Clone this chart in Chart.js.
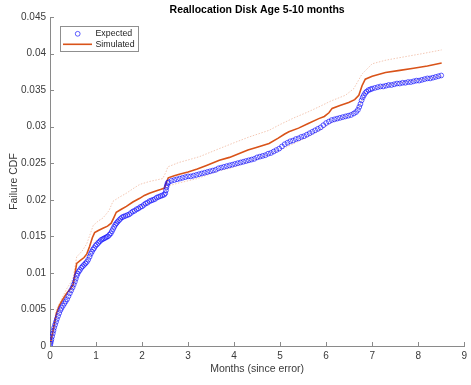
<!DOCTYPE html>
<html>
<head>
<meta charset="utf-8">
<title>Reallocation Disk Age 5-10 months</title>
<script src="https://cdn.jsdelivr.net/npm/chart.js@4/dist/chart.umd.min.js"></script>
<style>
  html, body { margin: 0; padding: 0; background: #ffffff; }
  canvas { display: block; }
</style>
</head>
<body>
<canvas id="c" width="471" height="385"></canvas>
<script>
// Axis ticks
const xTickValues = [0, 1, 2, 3, 4, 5, 6, 7, 8, 9];
const xTickLabels = ['0', '1', '2', '3', '4', '5', '6', '7', '8', '9'];
const yTickValues = [0, 0.005, 0.01, 0.015, 0.02, 0.025, 0.03, 0.035, 0.04, 0.045];
const yTickLabels = ['0', '0.005', '0.01', '0.015', '0.02', '0.025', '0.03', '0.035', '0.04', '0.045'];

// Expected failure CDF (markers)
const expectedMonths = [
  0.000, 0.010, 0.020, 0.030, 0.045, 0.060, 0.075, 0.090, 0.110, 0.130,
  0.150, 0.175, 0.200, 0.225, 0.250, 0.280, 0.310, 0.340, 0.370, 0.400,
  0.430, 0.460, 0.490, 0.515, 0.540, 0.560, 0.580, 0.600, 0.625, 0.650,
  0.680, 0.710, 0.740, 0.770, 0.800, 0.830, 0.860, 0.885, 0.910, 0.935,
  0.960, 0.990, 1.020, 1.050, 1.080, 1.110, 1.140, 1.170, 1.200, 1.230,
  1.260, 1.290, 1.320, 1.345, 1.370, 1.395, 1.420, 1.445, 1.470, 1.500,
  1.530, 1.565, 1.600, 1.640, 1.680, 1.720, 1.760, 1.800, 1.840, 1.880,
  1.920, 1.960, 2.000, 2.040, 2.080, 2.120, 2.160, 2.200, 2.240, 2.280,
  2.320, 2.360, 2.400, 2.440, 2.480, 2.505, 2.520, 2.530, 2.540, 2.555,
  2.58, 2.64, 2.70, 2.76, 2.82, 2.88, 2.94, 3.00, 3.06, 3.12,
  3.18, 3.24, 3.30, 3.36, 3.42, 3.48, 3.54, 3.60, 3.66, 3.72,
  3.78, 3.84, 3.90, 3.96, 4.02, 4.08, 4.14, 4.20, 4.26, 4.32,
  4.38, 4.44, 4.50, 4.56, 4.62, 4.68, 4.74, 4.80, 4.86, 4.92,
  4.98, 5.04, 5.10, 5.16, 5.22, 5.28, 5.34, 5.40, 5.46, 5.52,
  5.58, 5.64, 5.70, 5.76, 5.82, 5.88, 5.94, 6.00, 6.06, 6.12,
  6.18, 6.24, 6.30, 6.36, 6.42, 6.48, 6.54, 6.60, 6.65, 6.69,
  6.72, 6.745, 6.77, 6.795, 6.82, 6.85, 6.88, 6.92, 6.96, 7.00,
  7.06, 7.12, 7.18, 7.24, 7.30, 7.36, 7.42, 7.48, 7.54, 7.60,
  7.66, 7.72, 7.78, 7.84, 7.90, 7.96, 8.02, 8.08, 8.14, 8.20,
  8.26, 8.32, 8.38, 8.44, 8.50
];
const expectedCdf = [
  0.0000, 0.0003, 0.0006, 0.0009, 0.0013, 0.0017, 0.0021, 0.0025, 0.0029, 0.0033,
  0.0037, 0.0041, 0.0045, 0.0049, 0.0052, 0.0055, 0.0058, 0.0061, 0.0064, 0.0068,
  0.0072, 0.0076, 0.0080, 0.0084, 0.0088, 0.0092, 0.0096, 0.0099, 0.0102, 0.0104,
  0.0107, 0.0109, 0.0111, 0.0113, 0.0115, 0.0118, 0.0122, 0.0126, 0.0129, 0.0132,
  0.0134, 0.0137, 0.0139, 0.0141, 0.0143, 0.0145, 0.0146, 0.0147, 0.0148, 0.0149,
  0.0150, 0.0152, 0.0154, 0.0157, 0.0160, 0.0163, 0.0166, 0.0168, 0.0170, 0.0172,
  0.0174, 0.0176, 0.0177, 0.0178, 0.0179, 0.0180, 0.0182, 0.0184, 0.0185, 0.0187,
  0.0188, 0.0190, 0.0191, 0.0193, 0.0195, 0.0196, 0.0198, 0.0199, 0.0200, 0.0201,
  0.0203, 0.0204, 0.0205, 0.0206, 0.0207, 0.0209, 0.0213, 0.0217, 0.0220, 0.0223,
  0.0224, 0.0226, 0.0227, 0.0228, 0.0229, 0.0230, 0.0231, 0.0232, 0.0232, 0.0233,
  0.0234, 0.0235, 0.0236, 0.0237, 0.0238, 0.0239, 0.0240, 0.0241, 0.0243, 0.0244,
  0.0245, 0.0246, 0.0247, 0.0248, 0.0249, 0.0250, 0.0251, 0.0252, 0.0253, 0.0254,
  0.0255, 0.0256, 0.0258, 0.0259, 0.0260, 0.0261, 0.0263, 0.0264, 0.0266, 0.0268,
  0.0270, 0.0273, 0.0276, 0.0278, 0.0280, 0.0281, 0.0283, 0.0284, 0.0286, 0.0287,
  0.0289, 0.0291, 0.0293, 0.0295, 0.0297, 0.0299, 0.0302, 0.0305, 0.0307, 0.0309,
  0.0310, 0.0311, 0.0312, 0.0313, 0.0314, 0.0315, 0.0316, 0.0318, 0.0320, 0.0323,
  0.0327, 0.0331, 0.0336, 0.0340, 0.0343, 0.0346, 0.0348, 0.0350, 0.0351, 0.0352,
  0.0353, 0.0354, 0.0355, 0.0355, 0.0356, 0.0357, 0.0357, 0.0358, 0.0359, 0.0359,
  0.0360, 0.0360, 0.0361, 0.0361, 0.0362, 0.0363, 0.0363, 0.0364, 0.0365, 0.0366,
  0.0366, 0.0367, 0.0368, 0.0369, 0.0370
];

// Simulated failure CDF (line)
const simMonths = [
  0.00, 0.03, 0.07, 0.14, 0.20, 0.28, 0.36, 0.44, 0.50, 0.54,
  0.58, 0.66, 0.74, 0.80, 0.86, 0.92, 0.97, 1.05, 1.15, 1.25,
  1.33, 1.39, 1.44, 1.55, 1.66, 1.80, 1.95, 2.05, 2.16, 2.30,
  2.40, 2.49, 2.53, 2.57, 2.70, 2.81, 3.00, 3.20, 3.40, 3.68,
  3.90, 4.10, 4.30, 4.50, 4.76, 4.95, 5.10, 5.19, 5.40, 5.60,
  5.84, 5.96, 6.06, 6.13, 6.30, 6.49, 6.62, 6.71, 6.78, 6.85,
  7.00, 7.29, 7.60, 7.90, 8.20, 8.51
];
const simCdf = [
  0.0000, 0.0010, 0.0022, 0.0045, 0.0055, 0.0064, 0.0072, 0.0078, 0.0084, 0.0098,
  0.0113, 0.0117, 0.0121, 0.0126, 0.0136, 0.0148, 0.0155, 0.0158, 0.0161, 0.0164,
  0.0168, 0.0176, 0.0183, 0.0187, 0.0191, 0.0197, 0.0202, 0.0206, 0.0209, 0.0212,
  0.0214, 0.0216, 0.0224, 0.0230, 0.0233, 0.0235, 0.0238, 0.0242, 0.0247, 0.0254,
  0.0258, 0.0263, 0.0268, 0.0272, 0.0277, 0.0284, 0.0290, 0.0293, 0.0298, 0.0304,
  0.0311, 0.0314, 0.0319, 0.0325, 0.0329, 0.0333, 0.0337, 0.0343, 0.0356, 0.0365,
  0.0369, 0.0374, 0.0377, 0.0380, 0.0383, 0.0387
];

// Simulated confidence bounds
const upperMonths = [
  0.00, 0.07, 0.14, 0.25, 0.36, 0.50, 0.58, 0.70, 0.80, 0.94,
  1.05, 1.15, 1.28, 1.37, 1.52, 1.66, 1.80, 1.95, 2.16, 2.45,
  2.52, 2.56, 2.80, 3.03, 3.25, 3.68, 4.00, 4.33, 4.76, 5.00,
  5.30, 5.60, 5.84, 6.10, 6.42, 6.60, 6.78, 7.00, 7.30, 7.65,
  8.10, 8.51
];
const upperCdf = [
  0.0000, 0.0026, 0.0050, 0.0064, 0.0078, 0.0092, 0.0122, 0.0130, 0.0140, 0.0165,
  0.0171, 0.0175, 0.0185, 0.0198, 0.0204, 0.0209, 0.0215, 0.0221, 0.0225, 0.0229,
  0.0238, 0.0245, 0.0251, 0.0255, 0.0259, 0.0270, 0.0278, 0.0286, 0.0295, 0.0303,
  0.0312, 0.0320, 0.0327, 0.0335, 0.0343, 0.0352, 0.0372, 0.0386, 0.0391, 0.0395,
  0.0400, 0.0405
];
const lowerMonths = [
  0.00, 0.14, 0.36, 0.50, 0.58, 0.80, 0.97, 1.20, 1.44, 1.66,
  1.95, 2.20, 2.49, 2.57, 2.80, 3.20, 3.68, 3.90, 4.50, 5.00,
  5.50, 5.84, 6.13, 6.50, 6.71, 6.85, 7.30, 8.00, 8.51
];
const lowerCdf = [
  0.0000, 0.0040, 0.0066, 0.0077, 0.0103, 0.0117, 0.0143, 0.0150, 0.0170, 0.0179,
  0.0190, 0.0198, 0.0205, 0.0219, 0.0223, 0.0229, 0.0240, 0.0243, 0.0256, 0.0268,
  0.0283, 0.0294, 0.0306, 0.0316, 0.0326, 0.0347, 0.0357, 0.0364, 0.0369
];

const toPoints = (xs, ys) => xs.map((x, i) => ({ x: x, y: ys[i] }));

const FONT = "'Liberation Sans', Arial, Helvetica, sans-serif";
const ORANGE = '#D95319';
const AXIS_COLOR = '#8a8a8a';
const TEXT_COLOR = '#3a3a3a';

// Inward tick marks, title, axis labels and an inset legend
const decorations = {
  id: 'decorations',
  afterDraw(chart) {
    const ctx = chart.ctx;
    const area = chart.chartArea;
    const xs = chart.scales.x, ys = chart.scales.y;
    ctx.save();

    // inward ticks
    ctx.strokeStyle = AXIS_COLOR;
    ctx.lineWidth = 1;
    ctx.beginPath();
    yTickValues.forEach(v => {
      const py = Math.round(ys.getPixelForValue(v)) + 0.5;
      ctx.moveTo(area.left, py);
      ctx.lineTo(area.left + 4, py);
    });
    xTickValues.forEach(v => {
      const px = Math.round(xs.getPixelForValue(v)) + 0.5;
      ctx.moveTo(px, area.bottom);
      ctx.lineTo(px, area.bottom - 4);
    });
    ctx.stroke();

    // title
    const cx = (area.left + area.right) / 2;
    ctx.fillStyle = '#000';
    ctx.font = 'bold 10.5px ' + FONT;
    ctx.textAlign = 'center';
    ctx.textBaseline = 'middle';
    ctx.fillText('Reallocation Disk Age 5-10 months', cx, 10);

    // axis titles
    ctx.fillStyle = TEXT_COLOR;
    ctx.font = '10.5px ' + FONT;
    ctx.fillText('Months (since error)', cx, 369);
    ctx.save();
    ctx.translate(14, (area.top + area.bottom) / 2);
    ctx.rotate(-Math.PI / 2);
    ctx.fillText('Failure CDF', 0, 0);
    ctx.restore();

    // legend
    const ds = chart.data.datasets;
    const bx = 60.5, by = 26.5, bw = 78, bh = 25;
    ctx.fillStyle = '#fff';
    ctx.fillRect(bx, by, bw, bh);
    ctx.strokeStyle = '#8f8f8f';
    ctx.lineWidth = 1;
    ctx.strokeRect(bx, by, bw, bh);

    ctx.strokeStyle = ds[0].borderColor;
    ctx.lineWidth = ds[0].borderWidth;
    ctx.beginPath();
    ctx.arc(77.7, 33.8, ds[0].pointRadius, 0, Math.PI * 2);
    ctx.stroke();

    ctx.strokeStyle = ds[1].borderColor;
    ctx.lineWidth = ds[1].borderWidth;
    ctx.beginPath();
    ctx.moveTo(63, 44.3);
    ctx.lineTo(92, 44.3);
    ctx.stroke();

    ctx.fillStyle = '#222';
    ctx.font = '8.8px ' + FONT;
    ctx.textAlign = 'left';
    ctx.textBaseline = 'middle';
    ctx.fillText(ds[0].label, 95.5, 33.8);
    ctx.fillText(ds[1].label, 95.5, 44.3);

    ctx.restore();
  }
};

new Chart(document.getElementById('c'), {
  type: 'scatter',
  data: {
    datasets: [
      {
        label: 'Expected',
        data: toPoints(expectedMonths, expectedCdf),
        showLine: false,
        pointStyle: 'circle',
        pointRadius: 2.4,
        borderColor: 'rgba(10, 10, 255, 0.72)',
        backgroundColor: 'rgba(0,0,0,0)',
        borderWidth: 0.9,
        order: 0
      },
      {
        label: 'Simulated',
        data: toPoints(simMonths, simCdf),
        showLine: true,
        pointRadius: 0,
        borderColor: ORANGE,
        borderWidth: 1.6,
        tension: 0,
        order: 1
      },
      {
        label: 'Upper bound',
        data: toPoints(upperMonths, upperCdf),
        showLine: true,
        pointRadius: 0,
        borderColor: 'rgba(217, 83, 25, 0.32)',
        borderWidth: 1,
        borderDash: [1.5, 1.5],
        tension: 0,
        order: 2
      },
      {
        label: 'Lower bound',
        data: toPoints(lowerMonths, lowerCdf),
        showLine: true,
        pointRadius: 0,
        borderColor: 'rgba(217, 83, 25, 0.32)',
        borderWidth: 1,
        borderDash: [1.5, 1.5],
        tension: 0,
        order: 3
      }
    ]
  },
  options: {
    responsive: false,
    devicePixelRatio: 1,
    animation: false,
    events: [],
    layout: { padding: { top: 17, right: 5, left: 0, bottom: 0 } },
    plugins: {
      legend: { display: false },
      title: { display: false },
      tooltip: { enabled: false }
    },
    scales: {
      x: {
        type: 'linear',
        min: 0,
        max: 9,
        grid: { display: false, drawTicks: false },
        border: { display: true, color: AXIS_COLOR, width: 1 },
        afterBuildTicks: s => { s.ticks = xTickValues.map(v => ({ value: v })); },
        afterFit: s => { s.height = 39; },
        ticks: {
          padding: 4,
          color: TEXT_COLOR,
          font: { family: FONT, size: 10 },
          maxRotation: 0,
          callback: (v, i) => xTickLabels[i]
        }
      },
      y: {
        type: 'linear',
        min: 0,
        max: 0.045,
        grid: { display: false, drawTicks: false },
        border: { display: true, color: AXIS_COLOR, width: 1 },
        afterBuildTicks: s => { s.ticks = yTickValues.map(v => ({ value: v })); },
        afterFit: s => { s.width = 50; },
        ticks: {
          padding: 4,
          color: TEXT_COLOR,
          font: { family: FONT, size: 10 },
          callback: (v, i) => yTickLabels[i]
        }
      }
    }
  },
  plugins: [decorations]
});
</script>
</body>
</html>
